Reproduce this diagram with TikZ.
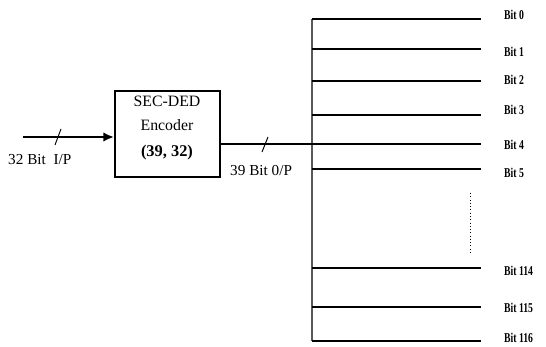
\documentclass[tikz,border=0pt]{standalone}
\usepackage{fontspec}
\setmainfont{Liberation Serif}
\usepackage{graphicx}
\usepackage{tikz}
\usetikzlibrary{positioning,arrows.meta}
\tikzset{
  busline/.style={line width=1.7pt},
  bitlabel/.style={anchor=west, inner sep=0pt, font=\bfseries\fontsize{11.5}{11.5}\selectfont},
  sigtext/.style={anchor=west, inner sep=0pt, font=\fontsize{13}{13}\selectfont},
}
\newcommand{\squeeze}[1]{\scalebox{0.72}[1]{#1}}

\begin{document}
\begin{tikzpicture}[x=0.03cm,y=-0.03cm]
  \useasboundingbox (0,0) rectangle (546,347);
  % encoder block
  \node[draw, line width=1.7pt, minimum width=3.15cm, minimum height=2.58cm] (enc) at (167.5,134) {};
  \node[align=center, inner sep=0pt, font=\fontsize{13.5}{20}\selectfont] (enctext) at (167,128)
    {SEC-DED\\Encoder\\[2pt]{\bfseries\fontsize{14}{14}\selectfont (39, 32)}};
  % input
  \coordinate (in) at (23,137);
  \draw[busline, -{Latex[length=9pt,width=8pt]}] (in) -- (enc.west |- in);
  \draw[line width=0.8pt] (55,145) -- (61,129);
  \node[sigtext] (inlabel) at (8,160) {32 Bit\ \ I/P};
  % bus and bit lines
  \coordinate (bustop) at (312,19);
  \coordinate (busbot) at (312,341);
  \draw[gray!70!black, line width=1.2pt] (bustop) -- (busbot);
  \foreach \y/\ly/\t in {19/15/0, 49/52/1, 81/80/2, 115/110/3, 144/145/4, 169/173/5, 268/271/114, 307/308/115, 341/338/116} {
    \coordinate (b\t) at (312,\y);
    \coordinate (e\t) at (481,\y);
    \draw[busline] (b\t) -- (e\t);
    \node[bitlabel] (l\t) at (504,\ly) {\squeeze{Bit \t}};
  }
  % output
  \draw[busline] (enc.east |- b4) -- (b4);
  \draw[line width=0.8pt] (262,152) -- (268,137);
  \node[sigtext] (outlabel) at (230,171) {39 Bit 0/P};
  % dots
  \coordinate (dtop) at (470,193);
  \coordinate (dbot) at (470,255);
  \draw[dotted, line width=0.8pt] (dtop) -- (dbot);
\end{tikzpicture}
\end{document}
